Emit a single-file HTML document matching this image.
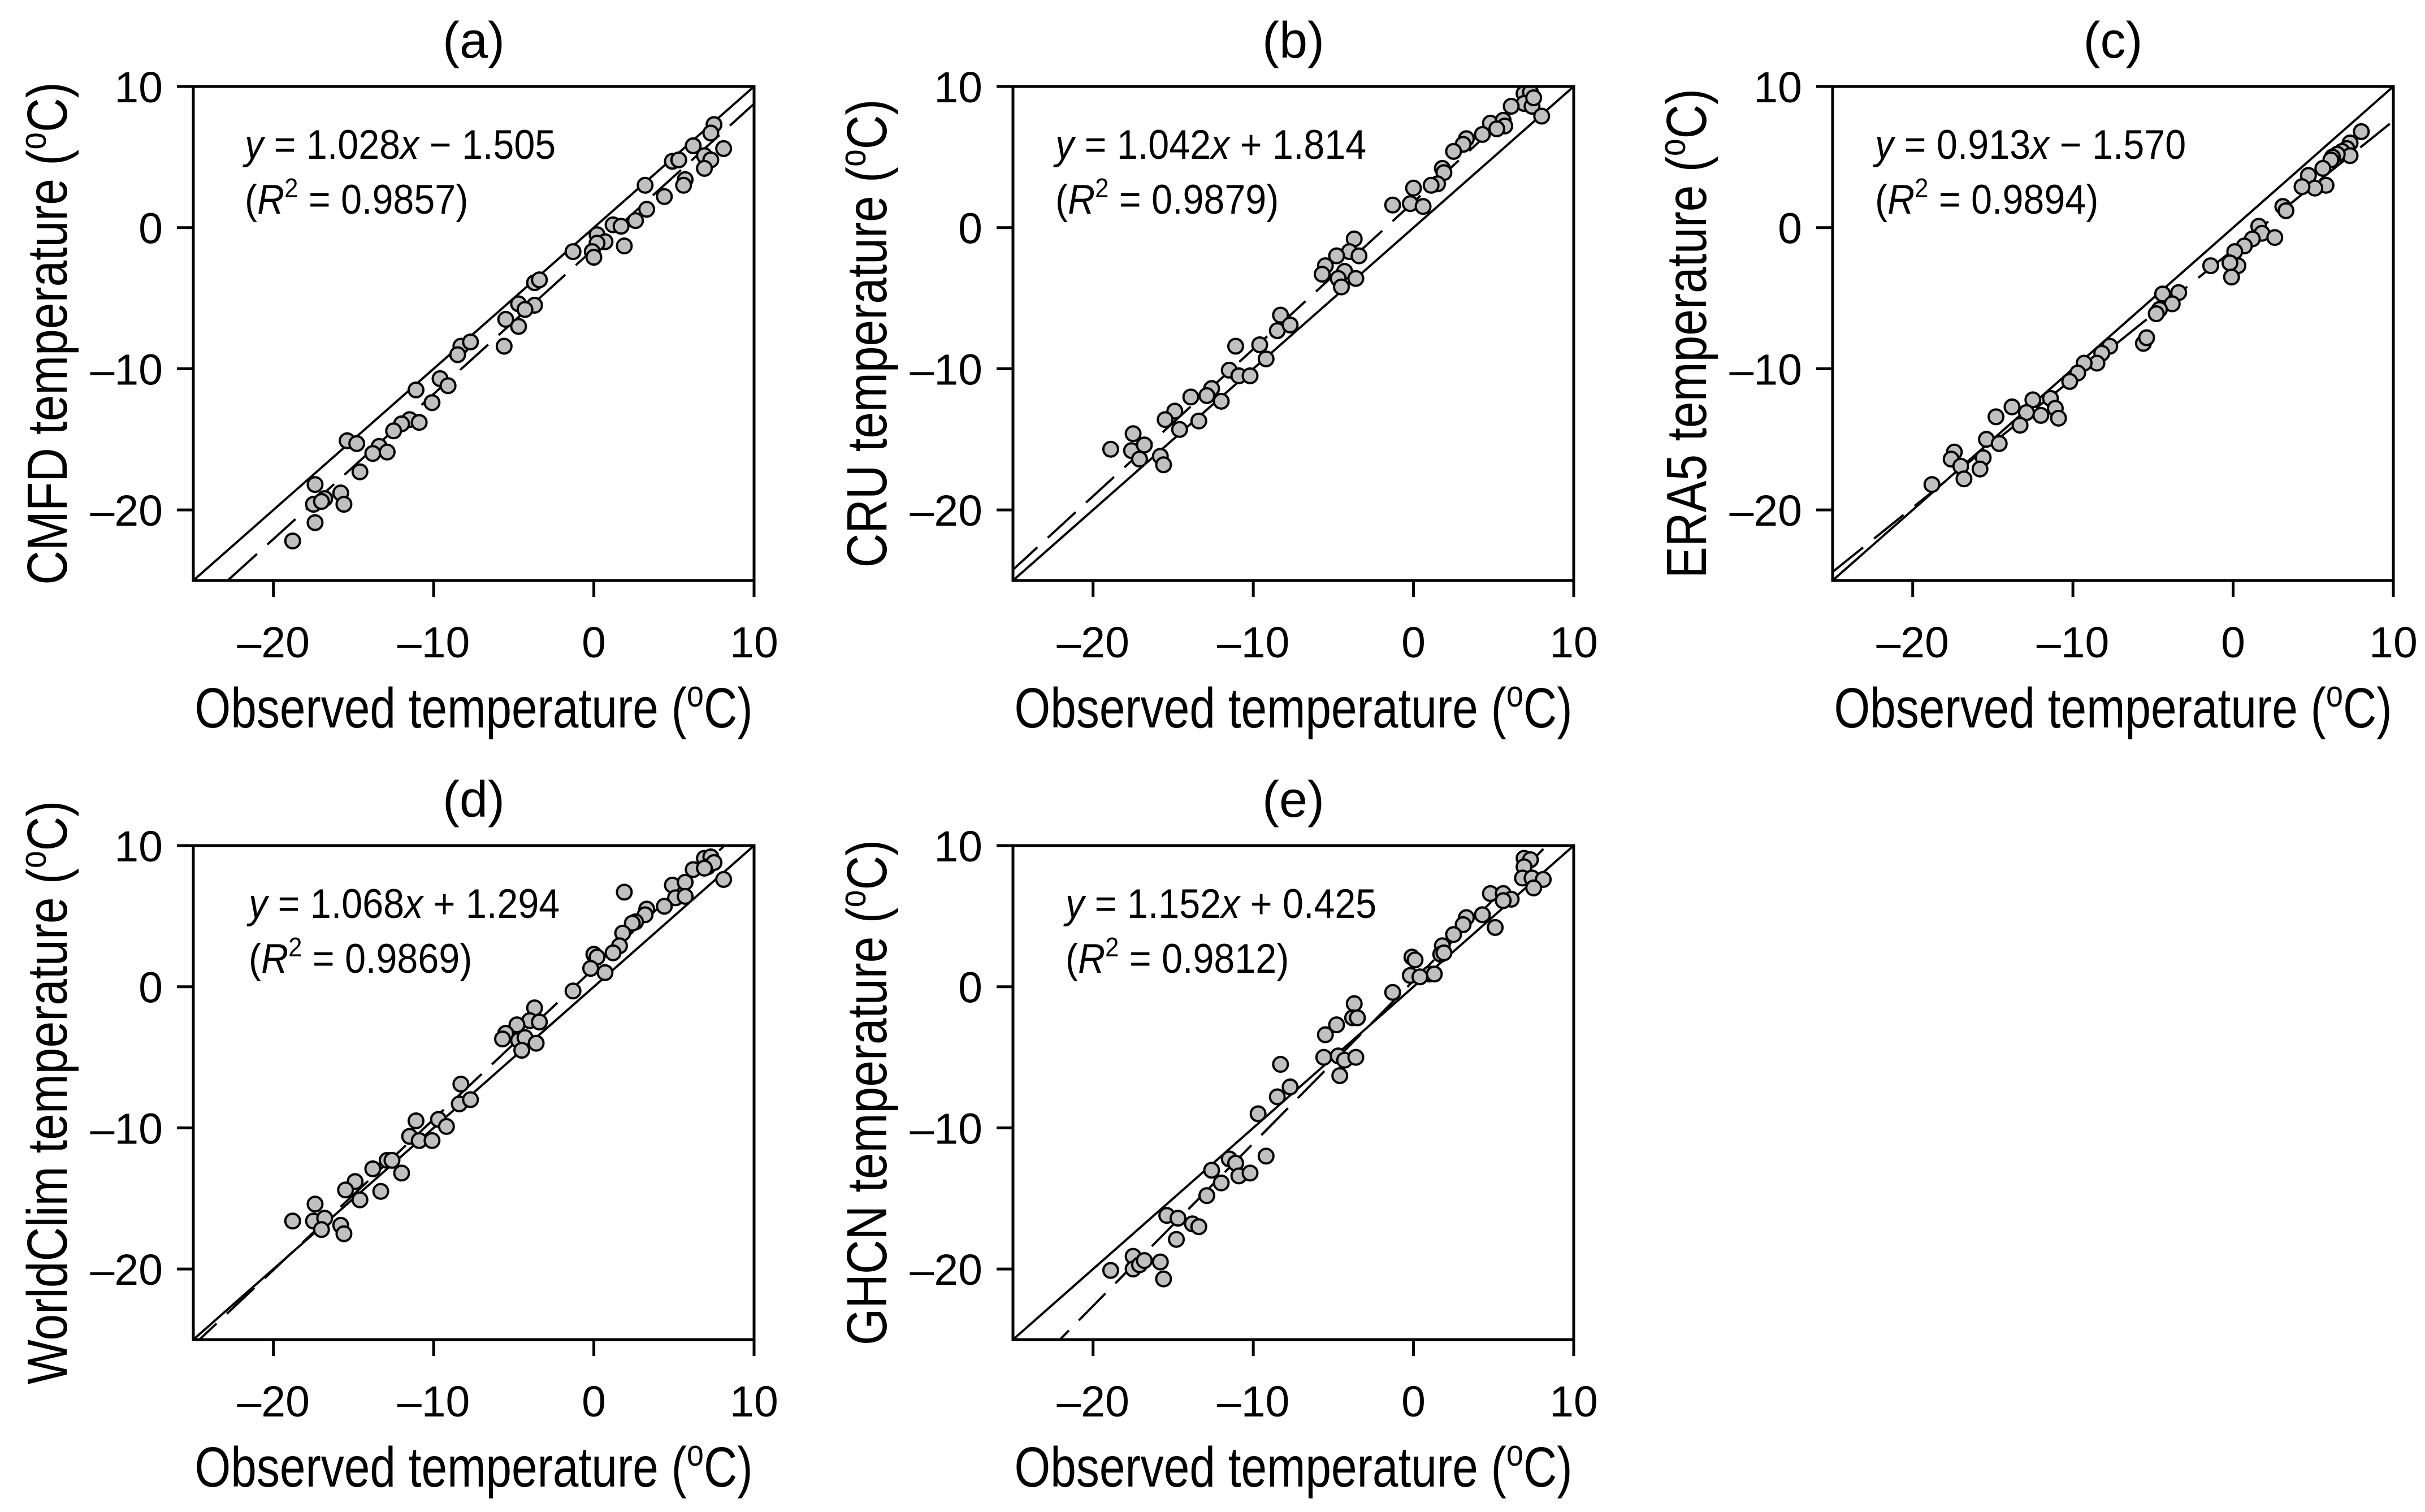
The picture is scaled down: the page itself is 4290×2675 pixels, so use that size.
<!DOCTYPE html>
<html><head><meta charset="utf-8"><title>Temperature comparison</title>
<style>html,body{margin:0;padding:0;background:#fff}svg{display:block}text{font-family:"Liberation Sans",Arial,sans-serif;fill:#000}</style>
</head><body>
<svg id="fig" xmlns="http://www.w3.org/2000/svg" width="4290" height="2675" viewBox="0 0 4290 2675"></svg>
<script>
const xTicks = [-20, -10, 0, 10];
const yTicks = [10, 0, -10, -20];
const tickLabels = ["\u201320", "\u201310", "0", "10"];
const panelLetters = ["(a)", "(b)", "(c)", "(d)", "(e)"];
const yTitles = ["CMFD", "CRU", "ERA5", "WorldClim", "GHCN"];
const slopes = [1.028, 1.042, 0.913, 1.068, 1.152];
const intercepts = [-1.505, 1.814, -1.570, 1.294, 0.425];
const r2Values = ["0.9857", "0.9879", "0.9894", "0.9869", "0.9812"];

const obsA = [7.5,7.3,6.2,8.1,4.9,5.3,6.9,7.3,6.9,5.7,5.6,3.2,3.3,4.4,2.6,1.2,1.7,1.9,0.2,0.7,0.2,-0.1,0,-1.3,-3.7,-3.4,-3.7,-4.7,-4.3,-5.5,-4.7,-5.6,-8.3,-7.7,-8.5,-9.6,-9.1,-11.1,-10.1,-11.5,-10.9,-12.0,-12.5,-13.4,-13.8,-12.9,-15.4,-14.8,-14.6,-17.4,-15.8,-15.6,-16.8,-17.5,-17.0,-17.4,-18.8];
const modA = [7.3,6.7,5.8,5.6,4.7,4.8,5.1,4.8,4.2,3.4,3.0,3.0,1.3,2.2,0.5,0.2,0.1,-1.3,-0.5,-1.0,-1.1,-1.7,-2.1,-1.7,-3.9,-3.7,-5.5,-5.4,-5.8,-6.5,-7.0,-8.4,-8.4,-8.1,-9.0,-10.7,-11.2,-11.5,-12.4,-13.6,-13.8,-13.9,-14.4,-15.5,-16.0,-15.9,-15.1,-15.3,-17.3,-18.2,-18.8,-19.6,-19.2,-19.6,-19.4,-20.9,-22.2];
const obsB = [6.9,7.3,6.9,7.4,7.5,8.0,6.1,4.8,5.6,5.7,5.2,4.3,3.3,3.1,2.5,1.8,1.9,1.5,1.1,0,-0.2,0.6,-1.3,-3.7,-4.0,-3.4,-4.8,-5.5,-5.7,-4.3,-4.7,-4.5,-3.6,-8.3,-8.5,-7.7,-9.6,-9.2,-11.1,-11.5,-10.9,-10.2,-12.6,-12.9,-12.0,-13.9,-14.9,-15.5,-14.6,-13.4,-17.5,-17.6,-16.8,-17.1,-15.8,-15.6,-18.9];
const modB = [9.5,9.6,8.8,8.6,9.2,7.9,8.6,7.4,7.6,7.2,7.0,6.6,6.3,5.9,5.4,4.2,3.9,3.1,3.0,2.8,1.7,1.5,1.6,-0.8,-1.7,-2.0,-2.0,-2.7,-3.3,-3.1,-3.6,-4.2,-3.6,-6.2,-7.3,-6.9,-8.3,-9.3,-8.4,-10.1,-10.5,-10.5,-11.4,-11.9,-12.3,-12.0,-13.0,-13.6,-14.3,-13.7,-14.6,-15.8,-15.4,-16.4,-16.2,-16.8,-15.7];
const obsC = [8.0,7.3,7.1,6.8,7.3,6.5,6.2,6.1,4.7,5.6,5.8,5.1,4.3,3.1,3.3,1.6,1.8,1.2,2.6,0.7,0.1,0.3,-0.2,-0.1,-1.4,-4.4,-3.4,-3.8,-4.6,-4.8,-5.6,-5.4,-7.7,-8.2,-8.5,-9.3,-9.7,-10.2,-12.5,-11.4,-12.0,-12.9,-11.1,-10.9,-13.8,-14.8,-13.3,-15.4,-14.6,-15.6,-15.8,-17.4,-17.6,-17.0,-16.8,-18.8];
const modC = [6.8,6.0,5.6,5.4,5.1,5.2,5.0,4.8,3.7,4.2,3.0,2.8,2.9,1.5,1.2,0.1,-0.4,-0.8,-0.7,-1.3,-1.7,-2.7,-2.5,-3.5,-2.7,-4.7,-4.6,-5.4,-5.8,-6.1,-8.2,-7.8,-8.4,-8.9,-9.6,-9.6,-10.3,-10.9,-12.2,-12.1,-13.3,-13.1,-12.8,-13.5,-12.7,-13.4,-14.0,-15.0,-15.3,-16.3,-17.1,-15.9,-16.4,-16.9,-17.8,-18.2];
const obsD = [6.9,7.3,7.1,7.5,8.1,6.2,6.9,4.9,5.7,5.1,5.7,1.9,4.4,3.3,3.2,2.6,2.4,1.8,1.6,1.2,0,0.2,-0.2,0.7,-1.3,-3.7,-4.0,-3.4,-4.8,-5.5,-5.7,-4.7,-4.3,-4.5,-3.6,-8.3,-8.4,-7.7,-9.7,-9.2,-11.1,-11.5,-10.9,-10.1,-12.9,-12.6,-12.0,-13.8,-14.9,-15.5,-14.6,-13.3,-17.4,-17.5,-16.8,-17.0,-18.8,-15.8,-15.6];
const modD = [9.1,9.2,8.5,8.8,7.6,8.3,8.4,7.2,7.4,6.3,6.4,6.7,5.7,5.5,5.1,4.6,4.5,3.8,2.9,2.4,2.3,2.1,1.3,1.0,-0.3,-1.5,-2.4,-2.5,-2.7,-3.3,-3.7,-3.8,-3.6,-4.5,-4.0,-6.9,-8.3,-8.0,-9.4,-9.9,-9.5,-10.6,-10.9,-10.9,-12.3,-12.3,-13.2,-12.9,-13.8,-14.4,-15.1,-14.5,-15.4,-16.6,-16.4,-17.2,-16.6,-16.9,-17.5];
const obsE = [6.9,7.3,6.9,6.8,7.4,8.1,7.5,4.8,5.6,6.1,5.6,3.3,3.1,4.3,5.1,2.5,1.8,1.7,1.9,-0.1,0.1,-0.2,1.0,1.3,0.4,-1.3,-3.7,-3.8,-3.5,-4.8,-5.5,-5.6,-4.7,-4.3,-3.6,-4.6,-8.3,-8.5,-7.7,-9.7,-9.2,-11.5,-11.1,-12.6,-10.9,-10.2,-12.0,-12.9,-15.4,-14.7,-13.8,-13.4,-14.8,-17.5,-17.5,-17.1,-16.8,-15.8,-18.9,-15.6];
const modE = [9.1,9.0,8.5,7.7,7.7,7.6,7.0,6.6,6.6,6.2,6.1,4.9,4.4,5.1,4.2,3.7,2.9,2.3,2.4,2.1,1.9,0.8,0.9,0.9,0.7,-0.4,-1.2,-2.2,-2.2,-2.7,-3.4,-5.0,-4.9,-5.2,-5.0,-6.3,-5.5,-7.8,-7.1,-9.0,-12.0,-12.2,-12.5,-13.0,-13.4,-13.2,-13.9,-14.8,-16.2,-16.4,-16.8,-17.0,-17.9,-19.1,-20.0,-19.7,-19.4,-19.5,-20.1,-20.7];
const obsAll = [obsA, obsB, obsC, obsD, obsE];
const modAll = [modA, modB, modC, modD, modE];

const NS = "http://www.w3.org/2000/svg";
const svg = document.getElementById("fig");
const XMIN = -25, XMAX = 10, YMIN = -25, YMAX = 10;
const W = 992, H = 874;
const lefts = [342, 1792, 3242, 342, 1792];
const tops = [153, 153, 153, 1496, 1496];
const eqDx = [91, 75, 75, 98, 93];

function mk(tag, attrs, parent) {
  const e = document.createElementNS(NS, tag);
  for (const k in attrs) e.setAttribute(k, attrs[k]);
  parent.appendChild(e);
  return e;
}

for (let p = 0; p < 5; p++) {
  const L = lefts[p], T = tops[p];
  const sx = v => L + (v - XMIN) / (XMAX - XMIN) * W;
  const sy = v => T + H - (v - YMIN) / (YMAX - YMIN) * H;
  const g = mk("g", {}, svg);
  
  

  const cid = "clip" + p;
  const defs = mk("defs", {}, g);
  const cp = mk("clipPath", {id: cid}, defs);
  mk("rect", {x: L, y: T, width: W, height: H}, cp);

  const one = mk("line", {x1: sx(XMIN), y1: sy(XMIN), x2: sx(XMAX), y2: sy(XMAX), stroke: "#000", "stroke-width": 4, "clip-path": "url(#" + cid + ")"}, g);
  
  
  const a = slopes[p], b = intercepts[p];
  const reg = mk("line", {x1: sx(XMIN - 5), y1: sy(a * (XMIN - 5) + b), x2: sx(XMAX + 5), y2: sy(a * (XMAX + 5) + b), stroke: "#000", "stroke-width": 4, "stroke-dasharray": "67 25", "clip-path": "url(#" + cid + ")"}, g);
  
  

  const pg = mk("g", {"clip-path": "url(#" + cid + ")"}, g);
  
  
  const ox = obsAll[p], oy = modAll[p];
  for (let i = 0; i < ox.length; i++) {
    const c = mk("circle", {cx: sx(ox[i]), cy: sy(oy[i]), r: 13, fill: "#c0c0c0", stroke: "#000", "stroke-width": 4}, pg);
    
    
  }

  const fr = mk("rect", {x: L, y: T, width: W, height: H, fill: "none", stroke: "#000", "stroke-width": 5}, g);
  
  

  for (let i = 0; i < xTicks.length; i++) {
    const X = sx(xTicks[i]);
    const tk = mk("line", {x1: X, y1: T + H, x2: X, y2: T + H + 29, stroke: "#000", "stroke-width": 5}, g);
    
    
    const t = mk("text", {x: X, y: T + H + 136, "font-size": 77, "text-anchor": "middle"}, g);
    t.textContent = tickLabels[i];
    
    
  }
  for (let i = 0; i < yTicks.length; i++) {
    const Y = sy(yTicks[i]);
    const tk = mk("line", {x1: L - 29, y1: Y, x2: L, y2: Y, stroke: "#000", "stroke-width": 5}, g);
    
    
    const t = mk("text", {x: L - 54, y: Y + 28, "font-size": 77, "text-anchor": "end"}, g);
    t.textContent = tickLabels[3 - i];
    
    
  }

  const tt = mk("text", {x: L + W / 2, y: T - 51, "font-size": 90, "text-anchor": "middle"}, g);
  tt.textContent = panelLetters[p];
  
  

  const xt = mk("text", {x: 0, y: 0, "font-size": 100, "text-anchor": "middle", transform: "translate(" + (L + W / 2) + "," + (T + H + 260) + ") scale(0.82,1)"}, g);
  
  
  xt.innerHTML = 'Observed temperature (<tspan dy="-37" font-size="66">o</tspan><tspan dy="37">C)</tspan>';

  const yt = mk("text", {x: 0, y: 0, "font-size": 100, "text-anchor": "middle", transform: "translate(" + (L - 224) + "," + (T + H / 2) + ") rotate(-90) scale(0.84,1)"}, g);
  
  
  yt.innerHTML = yTitles[p] + ' temperature (<tspan dy="-37" font-size="66">o</tspan><tspan dy="37">C)</tspan>';

  const ex = L + eqDx[p], ey = T + 128;
  const e1 = mk("text", {x: 0, y: 0, "font-size": 73, transform: "translate(" + ex + "," + ey + ") scale(0.91,1)"}, g);
  
  
  const sign = b < 0 ? " \u2212 " : " + ";
  e1.innerHTML = '<tspan font-style="italic">y</tspan> = ' + a.toFixed(3) + '<tspan font-style="italic">x</tspan>' + sign + Math.abs(b).toFixed(3);
  const e2 = mk("text", {x: 0, y: 0, "font-size": 73, transform: "translate(" + ex + "," + (ey + 97) + ") scale(0.91,1)"}, g);
  
  
  e2.innerHTML = '(<tspan font-style="italic">R</tspan><tspan dy="-29" font-size="48">2</tspan><tspan dy="29"> = ' + r2Values[p] + ')</tspan>';
}
</script>
</body></html>
